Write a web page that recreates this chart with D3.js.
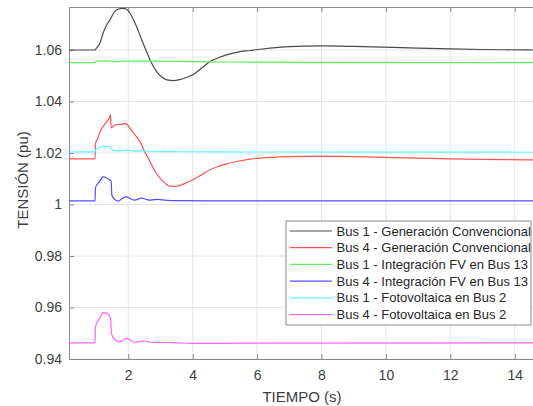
<!DOCTYPE html>
<html><head><meta charset="utf-8">
<script src="https://cdn.jsdelivr.net/npm/d3@7"></script>
<style>body{margin:0;background:#fff}svg{display:block}text{font-family:"Liberation Sans",Arial,sans-serif}</style>
</head><body><svg id="c" width="533" height="406"></svg>
<script>
const xTicks = [2,4,6,8,10,12,14];
const yTicks = [0.94,0.96,0.98,1.0,1.02,1.04,1.06];
const yTickLabels = ["0.94","0.96","0.98","1","1.02","1.04","1.06"];
const seriesNames = ["Bus 1 - Generación Convencional","Bus 4 - Generación Convencional","Bus 1 - Integración FV en Bus 13","Bus 4 - Integración FV en Bus 13","Bus 1 - Fotovoltaica en Bus 2","Bus 4 - Fotovoltaica en Bus 2"];
const seriesColors = ["#4a4a4a","#ff5252","#62ea62","#5050ff","#62ffff","#ff62ff"];

const bus1Gen = [[0.16,1.06],[0.97,1.06],[1.0,1.0605],[1.12,1.0627],[1.22,1.0666],[1.33,1.0697],[1.43,1.0717],[1.52,1.0738],[1.6,1.0752],[1.7,1.0759],[1.8,1.0762],[1.9,1.0761],[2.0,1.0752],[2.1,1.0733],[2.26,1.069],[2.4,1.0645],[2.55,1.06],[2.7,1.0555],[2.88,1.0516],[3.05,1.0494],[3.2,1.0484],[3.4,1.0481],[3.6,1.0485],[3.8,1.0493],[4.02,1.0505],[4.3,1.0532],[4.54,1.0555],[4.8,1.057],[5.05,1.0581],[5.4,1.0592],[5.78,1.0598],[6.1,1.0603],[6.4,1.0607],[7.0,1.0613],[7.96,1.0616],[9.0,1.0614],[9.9,1.0611],[11.0,1.0607],[12.0,1.0604],[13.0,1.0602],[14.63,1.06]];
const bus4Gen = [[0.16,1.0177],[0.97,1.0177],[0.98,1.0236],[1.05,1.0256],[1.12,1.0282],[1.22,1.0303],[1.32,1.032],[1.4,1.0333],[1.45,1.0349],[1.47,1.0297],[1.55,1.0306],[1.64,1.031],[1.75,1.0311],[1.9,1.0314],[1.97,1.031],[2.05,1.0297],[2.2,1.0272],[2.36,1.0245],[2.5,1.0208],[2.67,1.0168],[2.82,1.0132],[2.98,1.0103],[3.15,1.0082],[3.29,1.0071],[3.45,1.007],[3.65,1.0076],[3.85,1.0087],[4.02,1.0097],[4.3,1.0117],[4.54,1.0135],[4.8,1.0148],[5.05,1.0158],[5.4,1.0168],[5.78,1.0176],[6.09,1.018],[7.0,1.0186],[7.96,1.0188],[9.0,1.0186],[9.9,1.0183],[11.0,1.018],[12.0,1.0177],[13.0,1.0175],[14.63,1.0173]];
const bus1FV13 = [[0.16,1.0551],[0.97,1.0551],[1.0,1.0557],[1.2,1.0558],[1.45,1.0558],[1.5,1.0555],[1.7,1.0555],[1.8,1.0557],[2.5,1.0557],[3.5,1.0556],[4.5,1.0554],[6.0,1.0553],[8.0,1.0552],[14.63,1.0551]];
const bus4FV13 = [[0.16,1.0014],[0.97,1.0014],[0.98,1.0064],[1.1,1.0088],[1.22,1.0107],[1.33,1.0103],[1.4,1.0098],[1.47,1.009],[1.49,1.0036],[1.6,1.0018],[1.69,1.0013],[1.82,1.0024],[1.95,1.003],[2.08,1.0022],[2.2,1.0017],[2.4,1.0025],[2.55,1.002],[2.67,1.0017],[2.8,1.0019],[2.93,1.002],[3.2,1.0016],[3.6,1.0015],[5.0,1.0014],[14.63,1.0014]];
const bus1FV2 = [[0.16,1.0204],[0.97,1.0204],[1.0,1.0214],[1.1,1.0222],[1.22,1.0226],[1.4,1.0226],[1.47,1.0223],[1.5,1.0212],[1.65,1.0208],[1.8,1.0209],[1.95,1.0212],[2.1,1.0209],[2.3,1.0207],[2.5,1.0208],[2.8,1.0205],[3.2,1.0205],[5.0,1.0204],[14.63,1.0203]];
const bus4FV2 = [[0.16,0.9463],[0.97,0.9463],[0.98,0.9525],[1.1,0.9555],[1.22,0.958],[1.33,0.9578],[1.45,0.9558],[1.48,0.9497],[1.6,0.9474],[1.72,0.9467],[1.85,0.9474],[1.95,0.948],[2.05,0.9474],[2.2,0.9465],[2.35,0.9467],[2.5,0.947],[2.65,0.9466],[2.8,0.9464],[3.0,0.9465],[3.5,0.9463],[4.0,0.9461],[5.0,0.9461],[6.0,0.9462],[14.63,0.9463]];
const allSeries = [bus1Gen,bus4Gen,bus1FV13,bus4FV13,bus1FV2,bus4FV2];

const L=69,T=7,R=535,B=359;
const x=d3.scaleLinear().domain([0.16,14.63]).range([L,R]);
const y=d3.scaleLinear().domain([0.94,1.0767]).range([B,T]);
const svg=d3.select("#c");
const axisCol="#8a8a8a", txtCol="#404040";

svg.append("g").selectAll("line").data(xTicks).join("line")
  .attr("x1",d=>x(d)).attr("x2",d=>x(d)).attr("y1",T).attr("y2",B)
  .attr("stroke","#e6e6e6").attr("stroke-width",1);
svg.append("g").selectAll("line").data(yTicks).join("line")
  .attr("x1",L).attr("x2",R).attr("y1",d=>y(d)).attr("y2",d=>y(d))
  .attr("stroke","#e6e6e6").attr("stroke-width",1);

const xa=d3.axisBottom(x).tickValues(xTicks).tickSize(-5).tickPadding(11).tickFormat(d3.format("d"));
const gx=svg.append("g").attr("transform",`translate(0,${B})`).call(xa);
const xt=d3.axisTop(x).tickValues(xTicks).tickSize(-5).tickFormat("");
const gxt=svg.append("g").attr("transform",`translate(0,${T})`).call(xt);
const ya=d3.axisLeft(y).tickValues(yTicks).tickSize(-5).tickPadding(7).tickFormat((d,i)=>yTickLabels[i]);
const gy=svg.append("g").attr("transform",`translate(${L},0)`).call(ya);
[gx,gxt,gy].forEach(g=>{
  g.select(".domain").attr("stroke",axisCol);
  g.selectAll(".tick line").attr("stroke",axisCol);
  g.selectAll("text").attr("fill",txtCol).style("font-size","14px").style("font-family","'Liberation Sans',Arial,sans-serif");
});

const line=d3.line().x(d=>x(d[0])).y(d=>y(d[1])).curve(d3.curveMonotoneX);
svg.append("clipPath").attr("id","cp").append("rect").attr("x",L).attr("y",T).attr("width",R-L).attr("height",B-T);
svg.append("g").attr("clip-path","url(#cp)").selectAll("path").data(allSeries).join("path")
  .attr("d",line).attr("fill","none").attr("stroke",(d,i)=>seriesColors[i]).attr("stroke-width",1.2).attr("stroke-linejoin","round");

svg.append("text").attr("x",(L+R)/2).attr("y",402).attr("text-anchor","middle").attr("fill",txtCol).style("font-size","15px").text("TIEMPO (s)");
svg.append("text").attr("transform","translate(28,180) rotate(-90)").attr("text-anchor","middle").attr("fill",txtCol).style("font-size","15px").text("TENSIÓN (pu)");

const lg=svg.append("g");
lg.append("rect").attr("x",286).attr("y",221).attr("width",245).attr("height",104).attr("fill","#fff").attr("stroke","#8a8a8a").attr("stroke-width",1);
const rowY=d3.scaleLinear().domain([0,5]).range([231,314.5]);
seriesNames.forEach((n,i)=>{
  lg.append("line").attr("x1",290).attr("x2",332).attr("y1",rowY(i)).attr("y2",rowY(i)).attr("stroke",seriesColors[i]).attr("stroke-width",1.2);
  lg.append("text").attr("x",336.5).attr("y",rowY(i)).attr("dy","0.35em").attr("fill","#262626").style("font-size","13px").text(n);
});
</script></body></html>
